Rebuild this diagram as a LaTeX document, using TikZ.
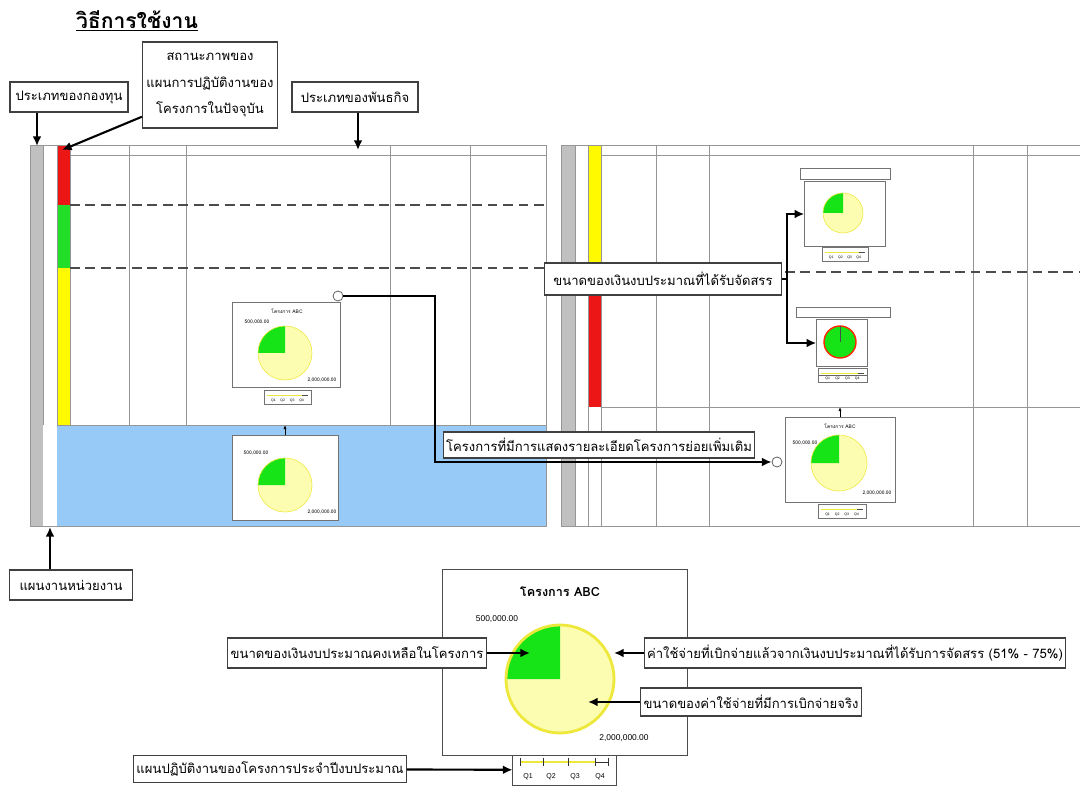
\documentclass[tikz,border=0pt]{standalone}
\usepackage{fontspec}
\setmainfont{Liberation Sans}
\newfontfamily\thai[Script=Thai]{Loma}
\usetikzlibrary{arrows.meta, positioning, calc}
\definecolor{bargray}{RGB}{192,192,192}
\definecolor{barred}{RGB}{236,22,22}
\definecolor{bargreen}{RGB}{34,222,40}
\definecolor{baryellow}{RGB}{255,250,0}
\definecolor{rowblue}{RGB}{152,202,248}
\definecolor{piefill}{RGB}{253,253,178}
\definecolor{pieedge}{RGB}{238,232,60}
\definecolor{piegreen}{RGB}{22,228,22}
\definecolor{gridgray}{RGB}{150,150,150}

\begin{document}
\begin{tikzpicture}[x=0.025cm, y=-0.025cm,
        callout/.style={draw=black!75,line width=0.8pt,fill=white,align=center,inner sep=2pt,font=\thai\fontsize{9.3}{11}\selectfont},
        pointer/.style={-{Latex[length=2.4mm,width=2.2mm]},line width=1.5pt},
        grid/.style={draw=gridgray,line width=0.4pt},
        sep/.style={draw=black!70,line width=1.1pt,dash pattern=on 7pt off 4pt},
        chart/.style={draw=black!55,fill=white,line width=0.5pt,inner sep=0pt},
        tiny/.style={font=\thai\fontsize{3.5}{4}\selectfont,inner sep=0pt},
        icon/.style={circle,draw=black!60,fill=white,line width=0.6pt,minimum size=0.25cm,inner sep=0pt}
    ]
        \useasboundingbox (0,0) rectangle (1080,787);

        \node[font=\thai\bfseries\fontsize{15}{18}\selectfont] (title) at (137,21) {\underline{วิธีการใช้งาน}};

        % left screen
        \fill[bargray] (31,145) rectangle (43,526);
        \fill[barred] (57,145) rectangle (70,205);
        \fill[bargreen] (57,205) rectangle (70,268);
        \fill[baryellow] (57,268) rectangle (70,425);
        \fill[rowblue] (57,425) rectangle (546,526);
        \draw[grid] (30,145) rectangle (546,526);
        \draw[grid] (70,155) -- (546,155);
        \foreach \x in {43,57,70,129,186,390,470}
            \draw[grid] (\x,145) -- (\x,425);
        \draw[grid] (57,425) -- (546,425);
        \draw[sep] (70,205) -- (546,205);
        \draw[sep] (70,268) -- (546,268);

        % right screen
        \fill[bargray] (562,145) rectangle (575,526);
        \fill[baryellow] (588,145) rectangle (601,272);
        \fill[barred] (588,272) rectangle (601,407);
        \draw[grid] (1080,145) -- (561,145) -- (561,526) -- (1080,526);
        \draw[grid] (601,155) -- (1080,155);
        \foreach \x in {575,588,601,656,709,973,1027}
            \draw[grid] (\x,145) -- (\x,526);
        \draw[grid] (601,407) -- (1080,407);
        \draw[sep] (785,272) -- (1080,272);

        % small charts
        \node[chart,minimum width=2.7cm,minimum height=2.12cm] (chartA) at (286,345) {};
        \node[chart,minimum width=2.65cm,minimum height=2.12cm] (chartB) at (285,478) {};
        \node[chart,minimum width=2.25cm,minimum height=0.28cm] (head1) at (845,174) {};
        \node[chart,minimum width=2.02cm,minimum height=1.62cm] (chart1) at (845,214) {};
        \node[chart,minimum width=2.35cm,minimum height=0.25cm] (head2) at (843,312) {};
        \node[chart,minimum width=1.27cm,minimum height=1.18cm] (chart2) at (842,343) {};
        \node[chart,minimum width=2.75cm,minimum height=2.12cm] (chart3) at (840,460) {};
        \node[tiny] (nameA) at (287,311) {โครงการ ABC};
        \node[tiny] (name3) at (840,426) {โครงการ ABC};
        \node[tiny] (lowA) at (257,322) {500,000.00};
        \node[tiny] (highA) at (322,380) {2,000,000.00};
        \node[tiny] (lowB) at (256,453) {500,000.00};
        \node[tiny] (highB) at (322,512) {2,000,000.00};
        \node[tiny] (low3) at (805,443) {500,000.00};
        \node[tiny] (high3) at (877,493) {2,000,000.00};
        \foreach \cx/\cy/\r/\w in {285/353/27/0.4, 285/485/27/0.4, 843/213/20/0.4, 839/463/28/0.4, 560/679/54/2}{
            \fill[piefill] (\cx,\cy) circle[radius=\r];
            \fill[piegreen] (\cx,\cy) -- ++(-\r,0) arc[start angle=180,end angle=270,radius=\r] -- cycle;
            \draw[pieedge,line width=\w pt] (\cx,\cy) circle[radius=\r];
        }
        \fill[piegreen] (840,342) circle[radius=16];
        \draw[red!70!orange,line width=1pt] (840,342) circle[radius=16];
        \draw[black!70,line width=0.4pt] (840,342) -- (840,326);
        \foreach \x/\y/\w in {264/390/47, 822/247/46, 818/368/49, 818/504/48}{
            \draw[chart] (\x,\y) rectangle ++(\w,14);
            \draw[pieedge,line width=0.6pt] (\x+3,\y+5) -- ++(\w-12,0);
            \draw[black!70,line width=0.3pt] (\x+\w-9,\y+5) -- ++(6,0);
            \foreach \k in {1,2,3,4}
                \node[tiny,font=\fontsize{2.5}{3}\selectfont] (q\k) at (\x+\w*\k/5,\y+10.5) {Q\k};
        }
        \draw[black!60,line width=0.4pt] (818,375) -- (867,375);

        % big chart
        \node[chart,draw=black!70,line width=0.7pt,minimum width=6.1cm,minimum height=4.625cm] (bigchart) at (565,662.5) {};
        \node[font=\thai\bfseries\fontsize{9}{11}\selectfont] (bigname) at (560,592) {โครงการ ABC};
        \fill[piefill] (560,679) circle[radius=54];
        \fill[piegreen] (560,679) -- ++(-54,0) arc[start angle=180,end angle=270,radius=54] -- cycle;
        \draw[pieedge,line width=2pt] (560,679) circle[radius=54];
        \node[font=\fontsize{6}{7}\selectfont] (biglow) at (497,619) {500,000.00};
        \node[font=\fontsize{6}{7}\selectfont] (bighigh) at (624,738) {2,000,000.00};
        \node[chart,draw=black!70,line width=0.7pt,minimum width=2.575cm,minimum height=0.75cm] (bigtl) at (564.5,770) {};
        \draw[pieedge,line width=1.2pt] (520,762) -- (595,762);
        \draw[black!80,line width=0.6pt] (595,762) -- (608,762);
        \foreach \x in {520,543,568,595,608}
            \draw[black!80,line width=0.6pt] (\x,758) -- (\x,766);
        \foreach \x/\q in {528/Q1,551/Q2,575/Q3,600/Q4}
            \node[font=\fontsize{5}{6}\selectfont,inner sep=0pt] (big\q) at (\x,777) {\q};

        % links between charts
        \node[icon] (iconA) at (338,296) {};
        \node[icon] (iconB) at (777,462) {};
        \coordinate (rowA) at (285,425);
        \coordinate (row3) at (840,407);
        \draw[-{Latex[length=1mm]},line width=0.5pt] (chartB.north -| rowA) -- (rowA);
        \draw[-{Latex[length=1mm]},line width=0.5pt] (chart3.north -| row3) -- (row3);

        % callouts
        \node[callout,minimum width=2.95cm,minimum height=0.75cm] (fundtype) at (69,97) {ประเภทของกองทุน};
        \node[callout,minimum width=3.375cm,minimum height=2.15cm,font=\thai\fontsize{9.3}{19}\selectfont] (status) at (210,85) {สถานะภาพของ\\แผนการปฏิบัติงานของ\\โครงการในปัจจุบัน};
        \node[callout,minimum width=3.15cm,minimum height=0.75cm] (mission) at (355,97) {ประเภทของพันธกิจ};
        \node[callout,minimum width=3.075cm,minimum height=0.75cm] (unitplan) at (71,585) {แผนงานหน่วยงาน};
        \node[callout,minimum width=5.925cm,minimum height=0.8cm] (budget) at (663,279) {ขนาดของเงินงบประมาณที่ได้รับจัดสรร};
        \node[callout,minimum width=7.45cm,minimum height=0.65cm] (subproj) at (599,445) {โครงการที่มีการแสดงรายละเอียดโครงการย่อยเพิ่มเติม};
        \node[callout,minimum width=6.475cm,minimum height=0.75cm] (remain) at (357,653) {ขนาดของเงินงบประมาณคงเหลือในโครงการ};
        \node[callout,minimum width=10.475cm,minimum height=0.75cm] (spent) at (855,653) {ค่าใช้จ่ายที่เบิกจ่ายแล้วจากเงินงบประมาณที่ได้รับการจัดสรร (51\% - 75\%)};
        \node[callout,minimum width=5.325cm,minimum height=0.7cm] (actual) at (751,702) {ขนาดของค่าใช้จ่ายที่มีการเบิกจ่ายจริง};
        \node[callout,minimum width=6.725cm,minimum height=0.675cm] (yearplan) at (270,769) {แผนปฏิบัติงานของโครงการประจำปีงบประมาณ};

        \coordinate (graytop) at (37,146);
        \coordinate (redtop) at (62,150);
        \coordinate (coltop) at (358,150);
        \coordinate (graybot) at (50,527);
        \coordinate (bend) at (435,462);
        \coordinate (fork) at (787,279);
        \coordinate (greenpt) at (530,653);
        \coordinate (yellowpt) at (614,653);
        \coordinate (innerpt) at (588,702);

        \draw[pointer] (fundtype.south -| graytop) -- (graytop);
        \draw[pointer] (status.205) -- (redtop);
        \draw[pointer] (mission.south -| coltop) -- (coltop);
        \draw[pointer] (unitplan.north -| graybot) -- (graybot);
        \draw[pointer] (iconA) -- (iconA -| bend) -- (bend) -- (iconB);
        \draw[line width=1.5pt] (budget.east) -- (fork);
        \draw[pointer] (fork) |- (chart1.west);
        \draw[pointer] (fork) |- (chart2.west);
        \draw[pointer] (remain) -- (greenpt);
        \draw[pointer] (spent) -- (yellowpt);
        \draw[pointer] (actual) -- (innerpt);
        \draw[pointer] (yearplan) -- (bigtl);
    \end{tikzpicture}
\end{document}
